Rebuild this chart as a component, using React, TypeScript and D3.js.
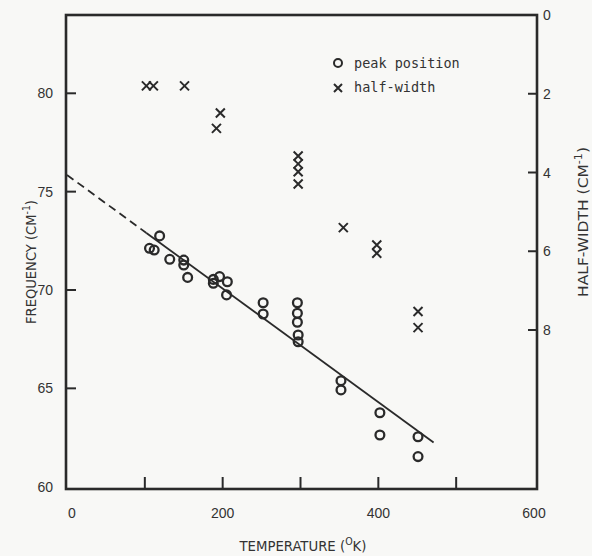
import { useMemo } from 'react'
import * as d3 from 'd3'

// peak position (left axis, cm-1)
const PEAK_T = [106, 112, 119, 132, 150, 150, 155, 188, 196, 188, 206, 205, 252, 252, 296, 296, 296, 297, 297, 352, 352, 402, 402, 451, 451]
const PEAK_F = [72.12, 72.03, 72.75, 71.56, 71.52, 71.27, 70.64, 70.54, 70.68, 70.34, 70.42, 69.75, 69.35, 68.78, 69.35, 68.82, 68.36, 67.71, 67.37, 65.39, 64.92, 63.76, 62.63, 62.54, 61.53]

// half-width (right axis, cm-1)
const HW_T = [102, 111, 151, 197, 192, 297, 297, 297, 297, 355, 398, 398, 451, 451]
const HW_H = [1.8, 1.8, 1.8, 2.49, 2.88, 3.58, 3.78, 3.98, 4.29, 5.4, 5.84, 6.05, 7.53, 7.94]

// fitted line: dashed extrapolation then solid part
const FIT_T = [0, 102, 471]
const FIT_F = [75.85, 72.9, 62.25]

const X_TICKS = [100, 200, 300, 400, 500]
const X_LABELS = [0, 200, 400, 600]
const YL_TICKS = [60, 65, 70, 75, 80]
const YR_TICKS = [2, 4, 6, 8]
const YR_LABELS = [0, 2, 4, 6, 8]

const W = 592
const H = 556
const FRAME = { left: 66, right: 537, top: 15, bottom: 489 }
const INK = '#2a2a2a'
const SANS = '"Liberation Sans", Arial, sans-serif'
const NARROW = '"Liberation Sans Narrow", "DejaVu Sans Condensed", "Liberation Sans", sans-serif'
const MONO = '"DejaVu Sans Mono", "Liberation Mono", monospace'

export default function App() {
  const x = useMemo(() => d3.scaleLinear().domain([0, 600]).range([67, 534]), [])
  const yL = useMemo(() => d3.scaleLinear().domain([60, 80]).range([486.7, 93.3]), [])
  const yR = useMemo(() => d3.scaleLinear().domain([0, 8]).range([15, 330]), [])

  const line = d3.line<number>().x(t => x(t)).y(t => yL(FIT_F[FIT_T.indexOf(t)]))
  const dashed = line(FIT_T.slice(0, 2)) || ''
  const solid = line(FIT_T.slice(1)) || ''

  const cross = (cx: number, cy: number, s = 4.5) =>
    `M${cx - s},${cy - s}L${cx + s},${cy + s}M${cx - s},${cy + s}L${cx + s},${cy - s}`

  return (
    <svg width={W} height={H} style={{ position: 'absolute', left: 0, top: 0, background: '#f8f8f6' }}>
      <rect width={W} height={H} fill="#f8f8f6" />

      {/* frame */}
      <rect x={FRAME.left} y={FRAME.top} width={FRAME.right - FRAME.left} height={FRAME.bottom - FRAME.top}
        fill="none" stroke={INK} strokeWidth={2.6} />

      {/* x ticks (inward) */}
      {X_TICKS.map(t => (
        <line key={`xt-${t}`} x1={x(t)} x2={x(t)} y1={FRAME.bottom} y2={FRAME.bottom - 12} stroke={INK} strokeWidth={2} />
      ))}
      {X_LABELS.map(t => (
        <text key={`xl-${t}`} x={x(t) + (t === 0 ? 5 : 0)} y={518} textAnchor="middle" fontFamily={SANS} fontSize={14} fill="#333">{t}</text>
      ))}

      {/* left ticks */}
      {YL_TICKS.slice(1).map(v => (
        <line key={`ylt-${v}`} x1={FRAME.left} x2={FRAME.left + 10} y1={yL(v)} y2={yL(v)} stroke={INK} strokeWidth={2} />
      ))}
      {YL_TICKS.map(v => (
        <text key={`yll-${v}`} x={53} y={yL(v) + 5} textAnchor="end" fontFamily={SANS} fontSize={14} fill="#333">{v}</text>
      ))}

      {/* right ticks */}
      {YR_TICKS.map(v => (
        <line key={`yrt-${v}`} x1={FRAME.right} x2={FRAME.right - 9} y1={yR(v)} y2={yR(v)} stroke={INK} strokeWidth={2} />
      ))}
      {YR_LABELS.map(v => (
        <text key={`yrl-${v}`} x={543} y={yR(v) + 5} textAnchor="start" fontFamily={SANS} fontSize={14} fill="#333">{v}</text>
      ))}

      {/* axis titles */}
      <text x={303} y={551} textAnchor="middle" fontFamily={NARROW} fontSize={14} fill="#333"
        textLength={127} lengthAdjust="spacingAndGlyphs">
        TEMPERATURE (<tspan dy={-6} fontSize={10}>O</tspan><tspan dy={6}>K)</tspan>
      </text>
      <text transform="translate(36,262) rotate(-90)" textAnchor="middle" fontFamily={NARROW} fontSize={14} fill="#333"
        textLength={124} lengthAdjust="spacingAndGlyphs">
        FREQUENCY (CM<tspan dy={-6} fontSize={10}>-1</tspan><tspan dy={6}>)</tspan>
      </text>
      <text transform="translate(588,222) rotate(-90)" textAnchor="middle" fontFamily={NARROW} fontSize={14} fill="#333"
        textLength={150} lengthAdjust="spacingAndGlyphs">
        HALF-WIDTH (CM<tspan dy={-6} fontSize={10}>-1</tspan><tspan dy={6}>)</tspan>
      </text>

      {/* fit line */}
      <path d={dashed} fill="none" stroke={INK} strokeWidth={1.8} strokeDasharray="8,5" />
      <path d={solid} fill="none" stroke={INK} strokeWidth={1.8} />

      {/* peak position circles */}
      {PEAK_T.map((t, i) => (
        <circle key={`p-${i}`} cx={x(t)} cy={yL(PEAK_F[i])} r={4.4} fill="none" stroke={INK} strokeWidth={2.3} />
      ))}

      {/* half-width crosses */}
      {HW_T.map((t, i) => (
        <path key={`h-${i}`} d={cross(x(t), yR(HW_H[i]))} stroke={INK} strokeWidth={2} fill="none" />
      ))}

      {/* legend */}
      <circle cx={338} cy={63} r={4} fill="none" stroke={INK} strokeWidth={2} />
      <text x={354} y={68} fontFamily={MONO} fontSize={13.5} fill="#333">peak position</text>
      <path d={cross(338, 88, 4)} stroke={INK} strokeWidth={2} fill="none" />
      <text x={354} y={92} fontFamily={MONO} fontSize={13.5} fill="#333">half-width</text>
    </svg>
  )
}
